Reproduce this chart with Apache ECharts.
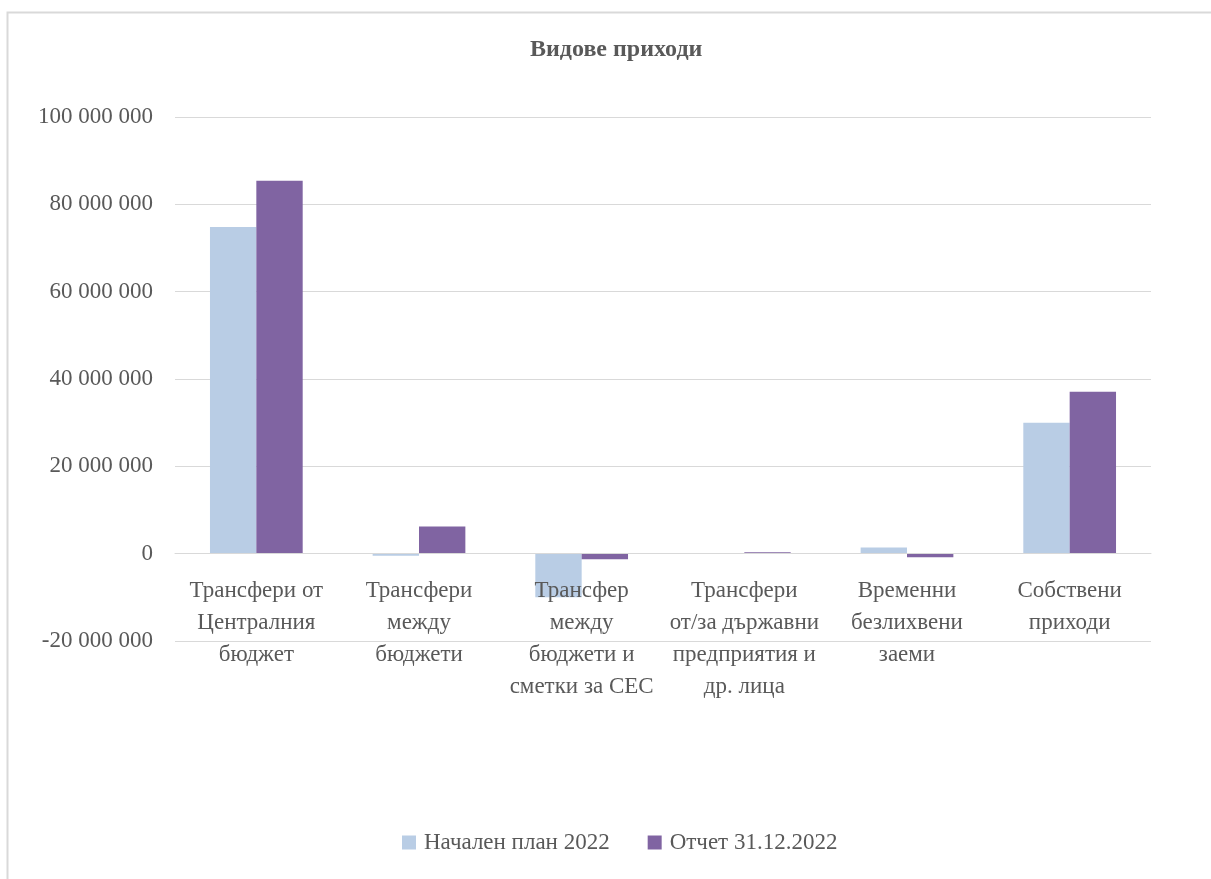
<!DOCTYPE html>
<html><head><meta charset="utf-8">
<script src="https://cdn.jsdelivr.net/npm/echarts@6/dist/echarts.min.js"></script>
<style>html,body{margin:0;padding:0;background:#fff}#c{width:1211px;height:879px}</style>
</head><body><div id="c"></div>
<script>
const categories = ['Трансфери от\nЦентралния\nбюджет','Трансфери\nмежду\nбюджети','Трансфер\nмежду\nбюджети и\nсметки за СЕС','Трансфери\nот/за държавни\nпредприятия и\nдр. лица','Временни\nбезлихвени\nзаеми','Собствени\nприходи'];
const seriesNames = ['Начален план 2022','Отчет 31.12.2022'];
const plan2022 = [74800000, -500000, -10000000, 0, 1400000, 30000000];
const report2022 = [85400000, 6200000, -1300000, 300000, -800000, 37100000];
const colors = ['#b9cde5','#8064a2'];
const font = '"Liberation Serif","Times New Roman",serif';
const yMin = -20000000, yMax = 100000000;
const gridTop = 117, gridBottom = 238, H = 879;
const plotH = H - gridTop - gridBottom;
const zeroOffset = -plotH * (0 - yMin) / (yMax - yMin);
const chart = echarts.init(document.getElementById('c'));
chart.setOption({
  animation:false,
  backgroundColor:'#fff',
  graphic:[{type:'rect',shape:{x:7.5,y:12.5,width:1300,height:1000},style:{fill:'none',stroke:'#d9d9d9',lineWidth:2},silent:true}],
  title:{text:'Видове приходи',left:525,top:33,textStyle:{fontFamily:font,fontSize:24,fontWeight:'bold',color:'#595959'}},
  legend:{bottom:20,left:397,itemWidth:14,itemHeight:14,itemGap:38,icon:'rect',
    textStyle:{fontFamily:font,fontSize:23,color:'#595959',padding:[0,0,0,3]},data:seriesNames},
  grid:{left:175,right:60,top:gridTop,bottom:gridBottom,containLabel:false},
  xAxis:{type:'category',data:categories,offset:zeroOffset,z:10,
    axisLine:{show:true,onZero:false,lineStyle:{color:'#d9d9d9'}},axisTick:{show:false},
    axisLabel:{interval:0,fontFamily:font,fontSize:23,color:'#595959',lineHeight:32,margin:21}},
  yAxis:{type:'value',min:yMin,max:yMax,interval:20000000,
    axisLine:{show:false},axisTick:{show:false},
    splitLine:{lineStyle:{color:'#d9d9d9',width:1}},
    axisLabel:{fontFamily:font,fontSize:23,color:'#595959',margin:22,
      formatter:v=>String(v).replace(/\B(?=(\d{3})+(?!\d))/g,' ')}},
  series:[
    {name:seriesNames[0],type:'bar',data:plan2022,itemStyle:{color:colors[0]},barGap:'0%',barCategoryGap:'43%'},
    {name:seriesNames[1],type:'bar',data:report2022,itemStyle:{color:colors[1]},barGap:'0%',barCategoryGap:'43%',z:3}
  ]
});
</script></body></html>
